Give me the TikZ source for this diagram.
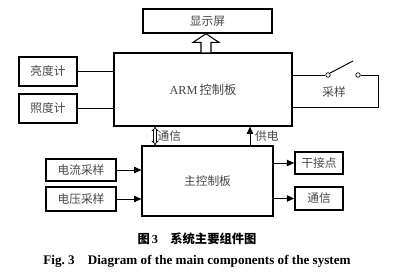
\documentclass[tikz,border=0pt]{standalone}
\usepackage{fontspec}
\setmainfont{Liberation Serif}
\newfontfamily\cjk{Noto Sans CJK SC}
\usetikzlibrary{arrows.meta,positioning,calc}
\definecolor{boxtxt}{RGB}{70,70,70}
\newcommand{\pxl}{0.03cm}
\tikzset{
  sbox/.style={draw=black, line width=1.3pt, font=\cjk\fontsize{10}{12}\selectfont, text=boxtxt,
               inner sep=0pt},
  bigbox/.style={draw=black, line width=1pt, inner sep=0pt, text=boxtxt},
  wire/.style={black, line width=0.8pt},
  sigarr/.style={-{Triangle[length=2.2mm,width=1.9mm]}, black, line width=0.8pt},
  busarr/.style={{Implies}-{Implies}, black, double, double distance=1.4pt, line width=0.6pt},
  hollow/.style={draw=black, line width=0.9pt, fill=white},
  lbl/.style={font=\cjk\fontsize{10}{12}\selectfont, text=boxtxt, inner sep=1pt},
  pin/.style={circle, draw=black, line width=0.6pt, fill=white, inner sep=0pt, minimum size=4.5*\pxl},
  capcn/.style={font=\cjk\bfseries\fontsize{10.5}{12}\selectfont},
  capen/.style={font=\bfseries\fontsize{11.2}{13}\selectfont},
}

\begin{document}
\begin{tikzpicture}[x=\pxl, y=-\pxl]
    \useasboundingbox (0,0) rectangle (400,277);
    % boxes
    \node[sbox, minimum width=129*\pxl, minimum height=24*\pxl] (disp) at (207.5,21) {显示屏};
    \node[bigbox, minimum width=178*\pxl, minimum height=73*\pxl] (arm) at (203,89.5)
         {\fontsize{10.5}{12}\selectfont ARM\,{\cjk 控制板}};
    \node[sbox, minimum width=58*\pxl, minimum height=29*\pxl] (bright) at (48,71.5) {亮度计};
    \node[sbox, minimum width=58*\pxl, minimum height=29*\pxl] (illum) at (48,108.5) {照度计};
    \node[bigbox, minimum width=131*\pxl, minimum height=70*\pxl, font=\cjk\fontsize{10}{12}\selectfont]
         (mainb) at (207.5,181) {主控制板};
    \node[sbox, minimum width=70*\pxl, minimum height=22*\pxl] (cur) at (81,170) {电流采样};
    \node[sbox, minimum width=70*\pxl, minimum height=24*\pxl] (vol) at (81,199) {电压采样};
    \node[sbox, minimum width=48*\pxl, minimum height=22*\pxl] (dry) at (319,163) {干接点};
    \node[sbox, minimum width=48*\pxl, minimum height=23*\pxl] (comm) at (319,198.5) {通信};
    % sensors into the ARM board
    \draw[wire] (bright.east) -- (bright.east -| arm.west);
    \draw[wire] (illum.east) -- (illum.east -| arm.west);
    % inputs and outputs of the main board
    \draw[sigarr] (cur.east) -- (cur.east -| mainb.west);
    \draw[sigarr] (vol.east) -- (vol.east -| mainb.west);
    \draw[sigarr] (dry.west -| mainb.east) -- (dry.west);
    \draw[sigarr] (comm.west -| mainb.east) -- (comm.west);
    % links between the boards
    \coordinate (bus) at (155,0);
    \coordinate (pwr) at (250,0);
    \draw[busarr] (bus |- mainb.north) -- (bus |- arm.south)
         node[lbl, midway, right=1pt] {通信};
    \draw[sigarr] (pwr |- mainb.north) -- (pwr |- arm.south)
         node[lbl, midway, right=3pt] {供电};
    % hollow arrow to the display
    \coordinate (up) at (206,0);
    \draw[hollow] ($(up |- arm.north)+(-5,0)$) -- ++(0,-10) -- ++(-8,0)
         -- (up |- disp.south) -- ($(up |- arm.north)+(13,-10)$) -- ++(-8,0)
         -- ++(0,10);
    % sampling switch
    \node[pin] (sa) at (328,75) {};
    \node[pin] (sb) at (358,75) {};
    \coordinate (sc) at (378,75);
    \coordinate (sd) at (378,107);
    \draw[wire] (sa.west -| arm.east) -- (sa.west);
    \draw[wire] (sa.north east) -- (353,61);
    \draw[wire] (sb.east) -- (sc) -- (sd) -- (sd -| arm.east);
    \node[lbl] (samp) at (334,92) {采样};
    % captions
    \node[capcn] (cap1) at (197,239) {图\,{\rmfamily 3}\quad 系统主要组件图};
    \node[capen] (cap2) at (197,261) {Fig.~3\quad Diagram of the main components of the system};
  \end{tikzpicture}
\end{document}
